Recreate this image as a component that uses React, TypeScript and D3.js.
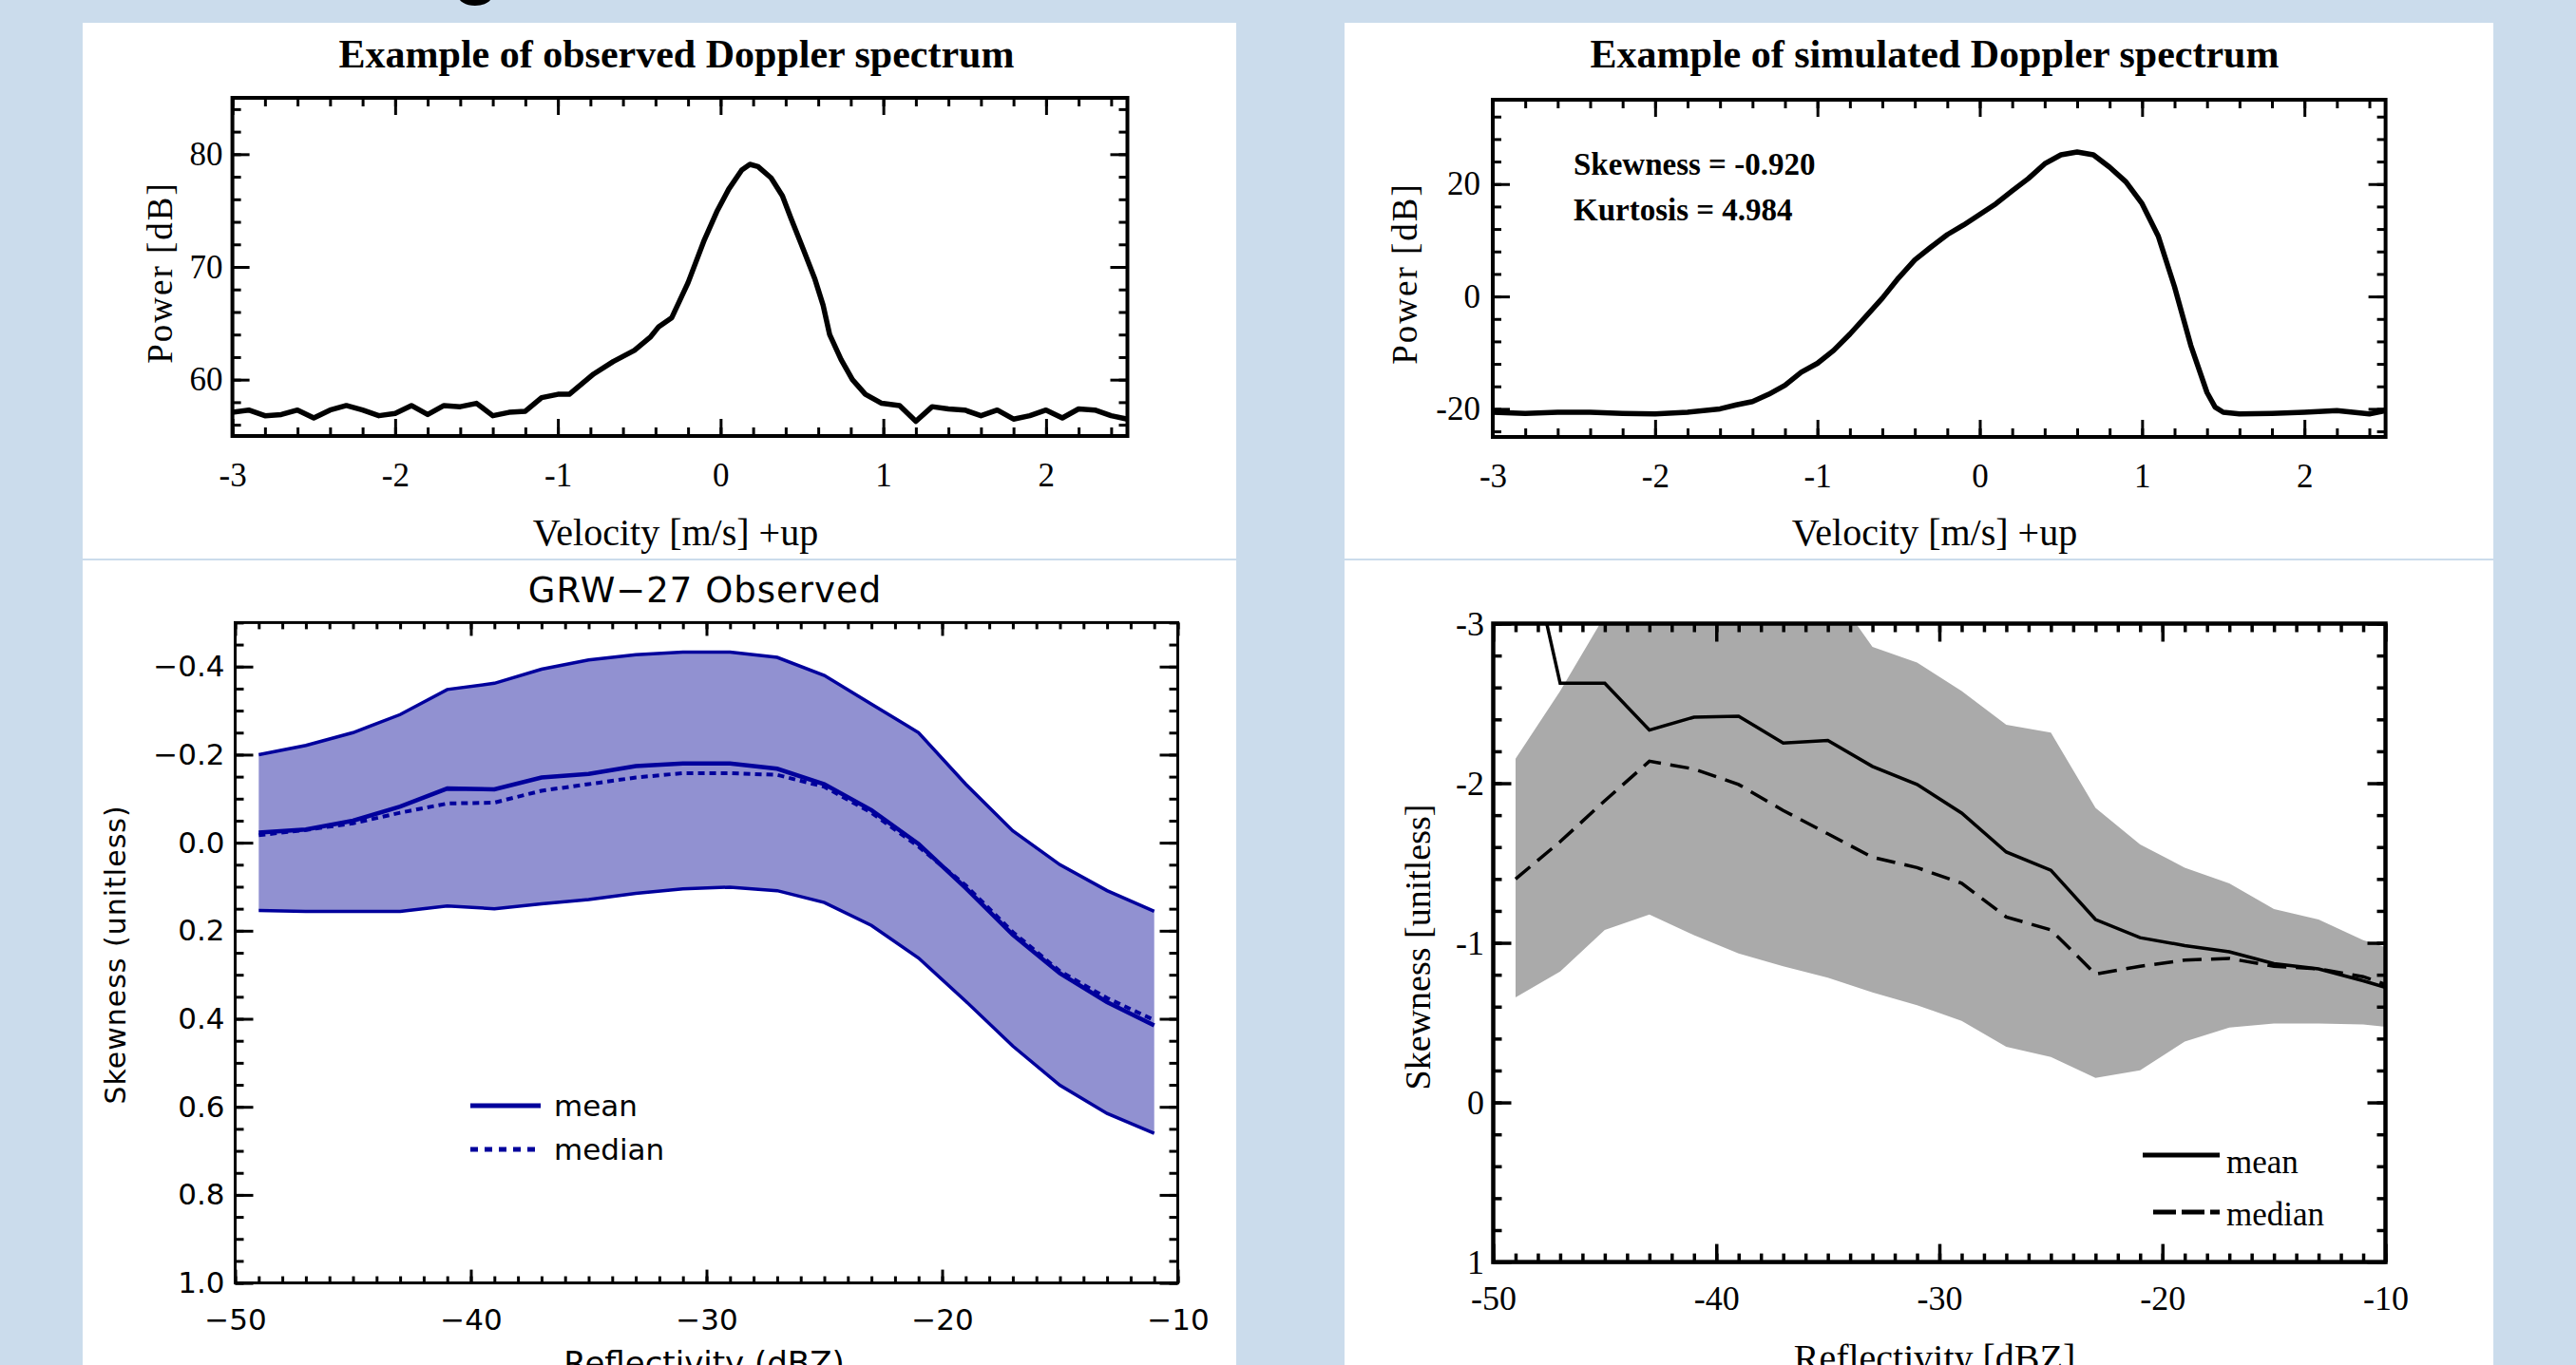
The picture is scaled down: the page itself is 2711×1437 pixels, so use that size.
import React, { useEffect, useRef } from "react";
import * as d3 from "d3";

const W = 2711;
const H = 1437;

// top left: observed Doppler spectrum
const obsVelocity = [
  -3.0, -2.9, -2.8, -2.7, -2.6, -2.5, -2.4, -2.3, -2.2, -2.1, -2.0, -1.9, -1.8, -1.7, -1.6, -1.5, -1.4, -1.3,
  -1.2, -1.1, -1.0, -0.93, -0.78, -0.66, -0.53, -0.43, -0.38, -0.3, -0.2, -0.1, -0.02, 0.05, 0.13, 0.18, 0.23,
  0.31, 0.38, 0.43, 0.51, 0.58, 0.63, 0.67, 0.74, 0.81, 0.89, 0.99, 1.1, 1.2, 1.3, 1.4, 1.5, 1.6, 1.7, 1.8,
  1.9, 2.0, 2.1, 2.2, 2.3, 2.4, 2.5,
];
const obsPower = [
  57.1, 57.3, 56.8, 56.9, 57.3, 56.6, 57.3, 57.7, 57.3, 56.8, 57.0, 57.7, 56.9, 57.7, 57.6, 57.9, 56.8, 57.1,
  57.2, 58.4, 58.7, 58.7, 60.5, 61.6, 62.6, 63.8, 64.7, 65.5, 68.6, 72.4, 75.0, 76.9, 78.6, 79.1, 78.9,
  77.9, 76.3, 74.4, 71.5, 68.9, 66.6, 64.0, 61.8, 60.0, 58.7, 57.9, 57.7, 56.3, 57.6, 57.4, 57.3, 56.8, 57.3,
  56.5, 56.8, 57.3, 56.6, 57.4, 57.3, 56.8, 56.5,
];

// top right: simulated Doppler spectrum
const simVelocity = [
  -3.0, -2.8, -2.6, -2.4, -2.2, -2.0, -1.8, -1.6, -1.5, -1.4, -1.3, -1.2, -1.1, -1.0, -0.9, -0.8, -0.7, -0.6,
  -0.5, -0.4, -0.3, -0.2, -0.1, 0.0, 0.1, 0.2, 0.3, 0.4, 0.5, 0.6, 0.7, 0.8, 0.9, 1.0, 1.1, 1.2, 1.3, 1.4,
  1.45, 1.5, 1.6, 1.8, 2.0, 2.2, 2.4, 2.5,
];
const simPower = [
  -20.6, -20.8, -20.6, -20.6, -20.8, -20.9, -20.6, -20.0, -19.3, -18.7, -17.4, -15.8, -13.5, -11.9, -9.6, -6.7,
  -3.5, -0.3, 3.3, 6.5, 8.8, 11.0, 12.7, 14.6, 16.5, 18.8, 21.0, 23.6, 25.2, 25.7, 25.2, 23.0, 20.4, 16.5,
  10.7, 1.7, -8.7, -17.1, -19.7, -20.6, -20.9, -20.8, -20.6, -20.3, -20.9, -20.3,
];
const simStats = ["Skewness = -0.920", "Kurtosis = 4.984"];

// bottom left: GRW-27 observed skewness against reflectivity
const grwDbz = [-49, -47, -45, -43, -41, -39, -37, -35, -33, -31, -29, -27, -25, -23, -21, -19, -17, -15, -13, -11];
const grwHigh = [
  -0.2, -0.221, -0.25, -0.291, -0.348, -0.362, -0.394, -0.415, -0.427, -0.433, -0.433, -0.421, -0.38, -0.315,
  -0.25, -0.133, -0.027, 0.05, 0.109, 0.156,
];
const grwMean = [
  -0.023, -0.03, -0.05, -0.082, -0.123, -0.121, -0.148, -0.156, -0.174, -0.18, -0.18, -0.168, -0.133, -0.074,
  0.003, 0.103, 0.209, 0.297, 0.362, 0.415,
];
const grwMedian = [
  -0.017, -0.029, -0.044, -0.068, -0.089, -0.091, -0.118, -0.133, -0.148, -0.158, -0.158, -0.154, -0.127,
  -0.068, 0.009, 0.097, 0.203, 0.292, 0.353, 0.403,
];
const grwLow = [
  0.154, 0.156, 0.156, 0.156, 0.144, 0.15, 0.139, 0.129, 0.115, 0.105, 0.101, 0.109, 0.136, 0.188, 0.262, 0.36,
  0.462, 0.551, 0.615, 0.66,
];

// bottom right: simulated skewness against reflectivity
const modDbz = [-49, -47, -45, -43, -41, -39, -37, -35, -33, -31, -29, -27, -25, -23, -21, -19, -17, -15, -13, -11, -9];
const modHigh = [
  -2.154, -2.577, -3.05, -3.3, -3.4, -3.4, -3.3, -3.25, -2.854, -2.756, -2.577, -2.366, -2.317, -1.845, -1.617,
  -1.471, -1.373, -1.211, -1.146, -1.016, -0.93,
];
const modLow = [
  -0.658, -0.82, -1.081, -1.178, -1.048, -0.934, -0.853, -0.781, -0.69, -0.609, -0.511, -0.349, -0.284, -0.154,
  -0.202, -0.381, -0.469, -0.495, -0.495, -0.489, -0.46,
];
const modMean = [
  -3.87, -2.626, -2.626, -2.333, -2.414, -2.42, -2.252, -2.268, -2.105, -1.992, -1.813, -1.569, -1.455, -1.146,
  -1.032, -0.983, -0.944, -0.869, -0.837, -0.762, -0.68,
];
const modMedian = [
  -1.4, -1.634, -1.89, -2.138, -2.089, -1.992, -1.829, -1.683, -1.536, -1.471, -1.373, -1.162, -1.081, -0.804,
  -0.853, -0.892, -0.902, -0.853, -0.837, -0.788, -0.69,
];

// tick labels
const velocityTicks = [-3, -2, -1, 0, 1, 2];
const obsPowerTicks = [60, 70, 80];
const simPowerTicks = [-20, 0, 20];
const dbzTicks = [-50, -40, -30, -20, -10];
const grwSkewTicks = [-0.4, -0.2, 0, 0.2, 0.4, 0.6, 0.8, 1.0];
const modSkewTicks = [-3, -2, -1, 0, 1];

const SERIF = "'Liberation Serif', 'Times New Roman', serif";
const SANS = "'DejaVu Sans', sans-serif";
const NAVY = "#00009c";

function drawFrame(g, o) {
  const [x0, x1] = o.x.range();
  const [yTop, yBot] = d3.extent(o.y.range());
  const tickSet = (axis, values, len, tr) => {
    g.append("g")
      .attr("transform", tr)
      .call(axis.tickValues(values).tickSize(-len).tickFormat(() => ""))
      .call((s) => s.select(".domain").remove())
      .call((s) => s.selectAll("line").attr("stroke", "#000").attr("stroke-width", o.tickWidth));
  };
  [[o.xMinor, o.xMinorLen], [o.xMajor, o.xMajorLen]].forEach(([vals, len]) => {
    tickSet(d3.axisBottom(o.x), vals, len, `translate(0,${yBot})`);
    tickSet(d3.axisTop(o.x), vals, len, `translate(0,${yTop})`);
  });
  [[o.yMinor, o.yMinorLen], [o.yMajor, o.yMajorLen]].forEach(([vals, len]) => {
    tickSet(d3.axisLeft(o.y), vals, len, `translate(${x0},0)`);
    tickSet(d3.axisRight(o.y), vals, len, `translate(${x1},0)`);
  });
  g.append("rect")
    .attr("x", x0)
    .attr("y", yTop)
    .attr("width", x1 - x0)
    .attr("height", yBot - yTop)
    .attr("fill", "none")
    .attr("stroke", "#000")
    .attr("stroke-width", o.frameWidth);

  const style = (s) =>
    s
      .call((t) => t.select(".domain").remove())
      .selectAll("text")
      .attr("font-family", o.font)
      .attr("font-size", o.fontSize)
      .attr("fill", "#000");
  g.append("g")
    .attr("transform", `translate(0,${yBot})`)
    .call(d3.axisBottom(o.x).tickValues(o.xMajor).tickSize(0).tickPadding(o.xPad).tickFormat(o.xFormat))
    .call(style);
  g.append("g")
    .attr("transform", `translate(${x0},0)`)
    .call(d3.axisLeft(o.y).tickValues(o.yMajor).tickSize(0).tickPadding(o.yPad).tickFormat(o.yFormat))
    .call(style);
}

function label(g, text, x, y, font, size, opts: any = {}) {
  const t = g
    .append("text")
    .attr("x", x)
    .attr("y", y)
    .attr("font-family", font)
    .attr("font-size", size)
    .attr("font-weight", opts.bold ? "bold" : "normal")
    .attr("text-anchor", opts.anchor || "middle")
    .attr("fill", "#000")
    .text(text);
  if (opts.rotate) t.attr("transform", `rotate(-90,${x},${y})`);
  if (opts.spacing) t.attr("letter-spacing", opts.spacing);
  return t;
}

export default function App() {
  const ref = useRef(null);

  useEffect(() => {
    const svg = d3.select(ref.current);
    svg.selectAll("*").remove();

    svg.append("rect").attr("width", W).attr("height", H).attr("fill", "#cbdcec");
    // fragment of a heading above the panels
    svg.append("ellipse").attr("cx", 500).attr("cy", -5).attr("rx", 18).attr("ry", 11).attr("fill", "#000");

    const panels = [
      [87, 24, 1214, 564],
      [1415, 24, 1209, 564],
      [87, 590, 1214, 847],
      [1415, 590, 1209, 847],
    ];
    svg
      .selectAll("rect.panel")
      .data(panels)
      .join("rect")
      .attr("class", "panel")
      .attr("x", (d) => d[0])
      .attr("y", (d) => d[1])
      .attr("width", (d) => d[2])
      .attr("height", (d) => d[3])
      .attr("fill", "#fff");

    const spectrumFrame = {
      xMajor: velocityTicks,
      xMinor: d3.range(-3, 2.501, 0.2),
      xMajorLen: 18,
      xMinorLen: 9,
      yMajorLen: 18,
      yMinorLen: 9,
      tickWidth: 3,
      frameWidth: 4,
      font: SERIF,
      fontSize: 35,
      xPad: 28,
      xFormat: (d) => String(d),
      yFormat: (d) => String(d),
    };

    // ---- top left ----
    {
      const g = svg.append("g");
      const x = d3.scaleLinear([-3, 2.5], [244.6, 1186.5]);
      const y = d3.scaleLinear([55, 85], [459, 103]);
      g.append("path")
        .datum(obsVelocity.map((v, i) => [v, obsPower[i]]))
        .attr("fill", "none")
        .attr("stroke", "#000")
        .attr("stroke-width", 5.5)
        .attr("stroke-linejoin", "round")
        .attr("d", d3.line().x((d) => x(d[0])).y((d) => y(d[1])));
      drawFrame(g, { ...spectrumFrame, x, y, yMajor: obsPowerTicks, yMinor: d3.range(56, 85, 2), yPad: 10 });
      label(g, "Example of observed Doppler spectrum", 712, 71, SERIF, 42, { bold: true });
      label(g, "Velocity [m/s] +up", 711, 574, SERIF, 40);
      label(g, "Power [dB]", 181, 287, SERIF, 37, { rotate: true, spacing: 2 });
    }

    // ---- top right ----
    {
      const g = svg.append("g");
      const x = d3.scaleLinear([-3, 2.5], [1571, 2510.6]);
      const y = d3.scaleLinear([-25, 35], [460, 105]);
      g.append("path")
        .datum(simVelocity.map((v, i) => [v, simPower[i]]))
        .attr("fill", "none")
        .attr("stroke", "#000")
        .attr("stroke-width", 5.5)
        .attr("stroke-linejoin", "round")
        .attr("d", d3.line().x((d) => x(d[0])).y((d) => y(d[1])));
      drawFrame(g, { ...spectrumFrame, x, y, yMajor: simPowerTicks, yMinor: d3.range(-24, 35, 4), yPad: 13 });
      label(g, "Example of simulated Doppler spectrum", 2036, 71, SERIF, 42, { bold: true });
      label(g, "Velocity [m/s] +up", 2036, 574, SERIF, 40);
      label(g, "Power [dB]", 1491, 288, SERIF, 37, { rotate: true, spacing: 2 });
      simStats.forEach((s, i) => label(g, s, 1656, 184 + i * 47.5, SERIF, 33, { bold: true, anchor: "start" }));
    }

    // ---- bottom left ----
    {
      const g = svg.append("g");
      const x = d3.scaleLinear([-50, -10], [247.5, 1239.5]);
      const y = d3.scaleLinear([-0.5, 1.0], [655.4, 1350.6]);
      g.append("path")
        .datum(grwDbz)
        .attr("fill", "#9191d1")
        .attr(
          "d",
          d3
            .area()
            .x((d) => x(d))
            .y0((d, i) => y(grwLow[i]))
            .y1((d, i) => y(grwHigh[i]))
        );
      const line = (vals) => d3.line().x((d) => x(d)).y((d, i) => y(vals[i]))(grwDbz);
      [
        [grwHigh, 3.5, null],
        [grwLow, 3.5, null],
        [grwMean, 4.5, null],
        [grwMedian, 4, "7 5"],
      ].forEach(([vals, w, dash]) => {
        g.append("path")
          .attr("d", line(vals))
          .attr("fill", "none")
          .attr("stroke", NAVY)
          .attr("stroke-width", w)
          .attr("stroke-dasharray", dash);
      });
      drawFrame(g, {
        x,
        y,
        xMajor: dbzTicks,
        xMinor: d3.range(-50, -9.99, 1),
        yMajor: grwSkewTicks,
        yMinor: d3.range(-0.5, 1.0001, 0.05),
        xMajorLen: 14,
        xMinorLen: 7,
        yMajorLen: 19,
        yMinorLen: 9,
        tickWidth: 3,
        frameWidth: 3,
        font: SANS,
        fontSize: 31,
        xPad: 27,
        yPad: 11,
        xFormat: d3.format("d"),
        yFormat: d3.format(".1f"),
      });
      label(g, "GRW\u221227 Observed", 742, 634, SANS, 37, { spacing: 1 });
      label(g, "Reflectivity (dBZ)", 741, 1447, SANS, 34);
      label(g, "Skewness (unitless)", 132, 1005, SANS, 30, { rotate: true, spacing: 1 });
      // legend
      g.append("line").attr("x1", 495).attr("x2", 569).attr("y1", 1164).attr("y2", 1164)
        .attr("stroke", NAVY).attr("stroke-width", 5);
      g.append("line").attr("x1", 495).attr("x2", 569).attr("y1", 1210).attr("y2", 1210)
        .attr("stroke", NAVY).attr("stroke-width", 5).attr("stroke-dasharray", "8 7");
      label(g, "mean", 583, 1175, SANS, 31, { anchor: "start" });
      label(g, "median", 583, 1221, SANS, 31, { anchor: "start" });
    }

    // ---- bottom right ----
    {
      const g = svg.append("g");
      const x = d3.scaleLinear([-50, -10], [1571.5, 2510.5]);
      const y = d3.scaleLinear([-3, 1], [656.5, 1328.6]);
      svg
        .append("clipPath")
        .attr("id", "clip-mod")
        .append("rect")
        .attr("x", 1571.5)
        .attr("y", 656.5)
        .attr("width", 2510.5 - 1571.5)
        .attr("height", 1328.6 - 656.5);
      const data = g.append("g").attr("clip-path", "url(#clip-mod)");
      data
        .append("path")
        .datum(modDbz)
        .attr("fill", "#aaaaaa")
        .attr(
          "d",
          d3
            .area()
            .x((d) => x(d))
            .y0((d, i) => y(modLow[i]))
            .y1((d, i) => y(modHigh[i]))
        );
      const line = (vals) => d3.line().x((d) => x(d)).y((d, i) => y(vals[i]))(modDbz);
      data.append("path").attr("d", line(modMean)).attr("fill", "none").attr("stroke", "#000").attr("stroke-width", 3.5);
      data
        .append("path")
        .attr("d", line(modMedian))
        .attr("fill", "none")
        .attr("stroke", "#000")
        .attr("stroke-width", 3.5)
        .attr("stroke-dasharray", "20 10");
      drawFrame(g, {
        x,
        y,
        xMajor: dbzTicks,
        xMinor: d3.range(-50, -9.99, 1),
        yMajor: modSkewTicks,
        yMinor: d3.range(-3, 1.0001, 0.2),
        xMajorLen: 19,
        xMinorLen: 9,
        yMajorLen: 19,
        yMinorLen: 9,
        tickWidth: 3.5,
        frameWidth: 4.5,
        font: SERIF,
        fontSize: 36,
        xPad: 25,
        yPad: 9.5,
        xFormat: (d) => String(d),
        yFormat: (d) => String(d),
      });
      label(g, "Reflectivity [dBZ]", 2036, 1443, SERIF, 40);
      label(g, "Skewness [unitless]", 1505, 997, SERIF, 38, { rotate: true });
      g.append("line").attr("x1", 2255).attr("x2", 2336).attr("y1", 1216).attr("y2", 1216)
        .attr("stroke", "#000").attr("stroke-width", 5);
      g.append("line").attr("x1", 2266).attr("x2", 2336).attr("y1", 1276).attr("y2", 1276)
        .attr("stroke", "#000").attr("stroke-width", 5).attr("stroke-dasharray", "24 6");
      label(g, "mean", 2343, 1235, SERIF, 35, { anchor: "start" });
      label(g, "median", 2343, 1290, SERIF, 35, { anchor: "start" });
    }
  }, []);

  return <svg ref={ref} width={W} height={H} style={{ position: "absolute", left: 0, top: 0, display: "block" }} />;
}
